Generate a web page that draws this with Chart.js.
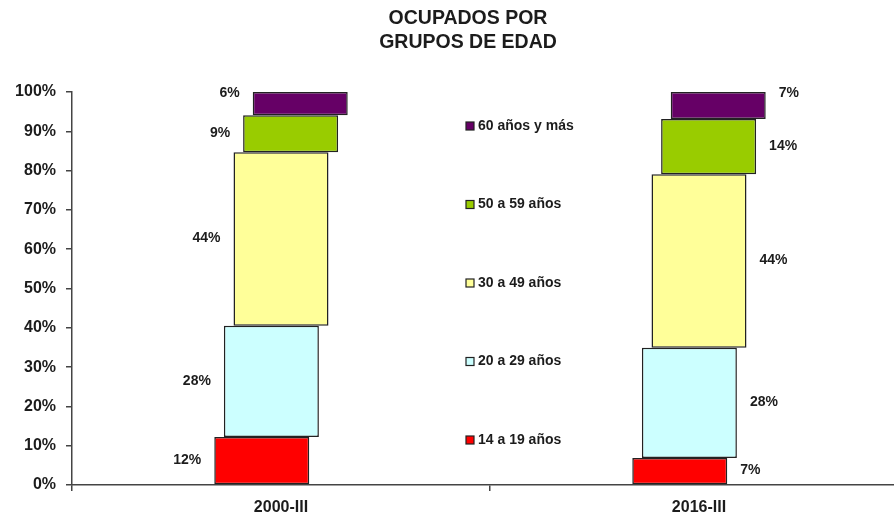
<!DOCTYPE html>
<html><head><meta charset="utf-8">
<script src="https://cdn.jsdelivr.net/npm/chart.js@4"></script>
<style>
html,body{margin:0;padding:0;overflow:hidden;background:#fff;width:894px;height:516px}
#wrap{position:relative;width:908px;height:516px}
</style>
</head><body><div id="wrap"><canvas id="c"></canvas></div>
<script>
// ---- data ----
const periods = ['2000-III', '2016-III'];
const groupNames = ['14 a 19 años', '20 a 29 años', '30 a 49 años', '50 a 59 años', '60 años y más'];
const share14to19 = [12.2, 6.9];
const share20to29 = [28.3, 28.0];
const share30to49 = [44.2, 44.2];
const share50to59 = [9.4, 14.0];
const share60plus = [5.9, 6.9];
const yTickValues = [0, 10, 20, 30, 40, 50, 60, 70, 80, 90, 100];
const titleLines = ['OCUPADOS POR', 'GRUPOS DE EDAD'];

// ---- styles ----
const colors = ['#FF0000', '#CCFFFF', '#FFFF99', '#99CC00', '#660066'];
const FONT = "'Liberation Sans', Arial, sans-serif";
const TXT = '#1c1c1c';
const AXIS = '#444';

const series = [share14to19, share20to29, share30to49, share50to59, share60plus];
const datasets = series.map((vals, i) => ({
  label: groupNames[i],
  data: vals.map((v, j) => {
    let s = 0;
    for (let k = 0; k < i; k++) s += series[k][j];
    return [s, s + v];
  }),
  backgroundColor: colors[i],
  borderColor: '#222',
  borderWidth: 1.5,
  borderSkipped: false,
  categoryPercentage: 0.115,
  barPercentage: 9.88
}));

const titlePlugin = {
  id: 'titleLines',
  afterDraw(chart) {
    const ctx = chart.ctx;
    ctx.save();
    ctx.fillStyle = TXT;
    ctx.font = 'bold 19.5px ' + FONT;
    ctx.textAlign = 'center';
    ctx.textBaseline = 'middle';
    titleLines.forEach((t, i) => ctx.fillText(t, 468, 19 + i * 23.5));
    ctx.restore();
  }
};

const legendPlugin = {
  id: 'midLegend',
  afterDraw(chart) {
    const ctx = chart.ctx, ca = chart.chartArea;
    ctx.save();
    ctx.font = 'bold 14px ' + FONT;
    ctx.textBaseline = 'middle';
    ctx.textAlign = 'left';
    const n = chart.data.datasets.length;
    for (let k = 0; k < n; k++) {
      const ds = chart.data.datasets[n - 1 - k];
      const y = ca.top + 34 + k * 78.5;
      ctx.fillStyle = ds.backgroundColor;
      ctx.fillRect(466, y - 4, 8, 8);
      ctx.strokeStyle = '#222';
      ctx.lineWidth = 1.2;
      ctx.strokeRect(466, y - 4, 8, 8);
      ctx.fillStyle = TXT;
      ctx.fillText(ds.label, 478, y);
    }
    ctx.restore();
  }
};

const valueLabels = {
  id: 'valueLabels',
  afterDatasetsDraw(chart) {
    const ctx = chart.ctx;
    ctx.save();
    ctx.font = 'bold 14px ' + FONT;
    ctx.fillStyle = TXT;
    ctx.textBaseline = 'middle';
    const n = chart.data.datasets.length;
    for (let i = 0; i < n; i++) {
      const meta = chart.getDatasetMeta(i);
      meta.data.forEach((el, j) => {
        const p = el.getProps(['x', 'y', 'base', 'width'], true);
        const txt = Math.round(series[i][j]) + '%';
        const top = Math.min(p.y, p.base), bot = Math.max(p.y, p.base);
        const ly = (i === n - 1) ? top + 1 : (top + bot) / 2 - 0.5;
        if (j === 0) {
          ctx.textAlign = 'right';
          ctx.fillText(txt, p.x - p.width / 2 - 13, ly);
        } else {
          ctx.textAlign = 'left';
          ctx.fillText(txt, p.x + p.width / 2 + 13, ly);
        }
      });
    }
    ctx.restore();
  }
};

new Chart(document.getElementById('c'), {
  type: 'bar',
  data: { labels: periods, datasets },
  plugins: [titlePlugin, legendPlugin, valueLabels],
  options: {
    responsive: true,
    maintainAspectRatio: false,
    animation: false,
    layout: { padding: { top: 92, left: 0, right: 0, bottom: 0 } },
    plugins: { legend: { display: false }, title: { display: false }, tooltip: { enabled: false } },
    scales: {
      x: {
        stacked: false,
        grid: { display: true, offset: true, drawOnChartArea: false, drawTicks: true, tickLength: 6, color: AXIS, lineWidth: 1.5 },
        border: { display: true, color: AXIS, width: 1.5 },
        ticks: { color: TXT, font: { family: FONT, size: 16, weight: 'bold' }, padding: 7 },
        afterFit(s) { s.height = 31; }
      },
      y: {
        min: 0, max: 100,
        afterBuildTicks(s) { s.ticks = yTickValues.map(v => ({ value: v })); },
        grid: { display: true, drawOnChartArea: false, drawTicks: true, tickLength: 6, color: AXIS, lineWidth: 1.5 },
        border: { display: true, color: AXIS, width: 1.5 },
        ticks: { color: TXT, font: { family: FONT, size: 16, weight: 'bold' }, padding: 10, callback: v => v + '%' },
        afterFit(s) { s.width = 72; }
      }
    }
  }
});
</script>
</body></html>
